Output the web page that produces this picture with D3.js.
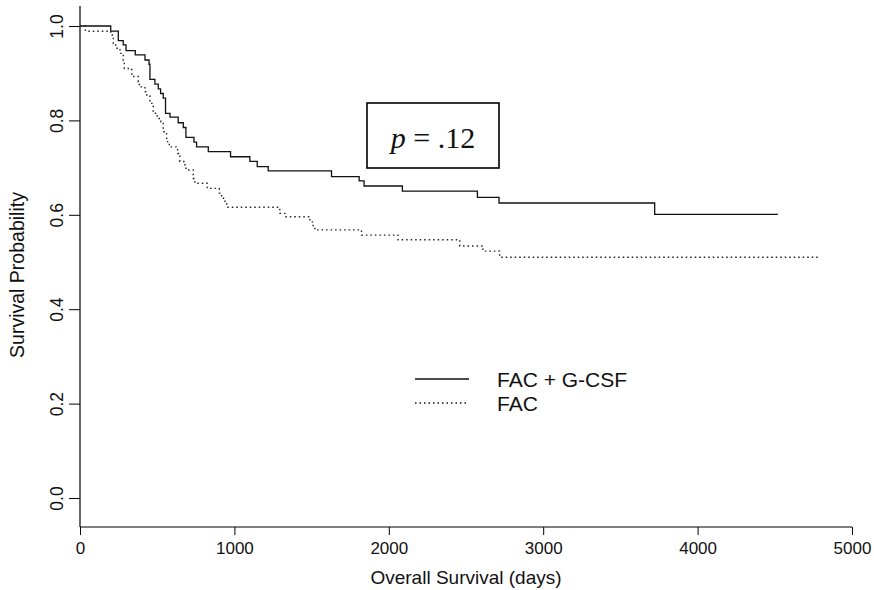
<!DOCTYPE html>
<html><head><meta charset="utf-8">
<script src="https://cdn.jsdelivr.net/npm/d3@7"></script>
<style>body{margin:0;background:#fff}</style>
</head><body>
<script>
// Kaplan-Meier step data (time in days, survival after event)
const gcsfTime = [0,199,248,280,298,358,421,447,453,485,507,522,539,554,583,636,669,686,738,755,831,975,1100,1148,1219,1629,1808,1840,2088,2574,2714,3722,4520];
const gcsfSurv = [1.0,0.989,0.969,0.960,0.948,0.939,0.928,0.919,0.887,0.877,0.867,0.857,0.847,0.815,0.807,0.795,0.785,0.764,0.754,0.744,0.734,0.723,0.713,0.702,0.693,0.681,0.672,0.661,0.650,0.637,0.625,0.601,0.601];
const facTime = [0,35,199,216,231,259,280,287,335,377,384,421,432,453,474,500,524,539,561,578,632,647,680,686,733,744,824,902,917,939,950,1294,1327,1489,1510,1521,1823,2060,2460,2610,2718,4790];
const facSurv = [1.0,0.989,0.981,0.963,0.953,0.942,0.924,0.910,0.893,0.882,0.871,0.861,0.852,0.836,0.815,0.804,0.797,0.776,0.755,0.744,0.730,0.713,0.706,0.695,0.677,0.667,0.656,0.646,0.635,0.624,0.616,0.603,0.596,0.585,0.575,0.568,0.557,0.547,0.534,0.523,0.510,0.510];
const xTicks = [0,1000,2000,3000,4000,5000];
const yTicks = [0.0,0.2,0.4,0.6,0.8,1.0];
const seriesNames = ["FAC + G-CSF","FAC"];
const pText = ".12";
const xTitle = "Overall Survival (days)";
const yTitle = "Survival Probability";

const W = 874, H = 590;
const svg = d3.select("body").append("svg").attr("width",W).attr("height",H);
const x = d3.scaleLinear().domain([0,5000]).range([80,852]);
const y = d3.scaleLinear().domain([0,1]).range([498,26]);
const axisFont = "'Liberation Sans', Arial, sans-serif";
const bottomY = 527, topY = 6;

// L-shaped frame
svg.append("line").attr("x1",80).attr("x2",80).attr("y1",topY).attr("y2",bottomY).attr("stroke","#000").attr("stroke-width",1.2);
svg.append("line").attr("x1",80).attr("x2",852).attr("y1",bottomY).attr("y2",bottomY).attr("stroke","#000").attr("stroke-width",1.2);

// x axis
const xa = svg.append("g").attr("transform",`translate(0,${bottomY})`)
  .call(d3.axisBottom(x).tickValues(xTicks).tickSize(8).tickPadding(7).tickFormat(d3.format("d")));
xa.select(".domain").remove();
xa.selectAll("line").attr("stroke","#000").attr("stroke-width",1);
xa.selectAll("text").attr("font-family",axisFont).attr("font-size",17).attr("fill","#111");

// y axis
const ya = svg.append("g").attr("transform","translate(80,0)")
  .call(d3.axisLeft(y).tickValues(yTicks).tickSize(11).tickFormat(d3.format(".1f")));
ya.select(".domain").remove();
ya.selectAll("line").attr("stroke","#000").attr("stroke-width",1);
ya.selectAll("text").attr("font-family",axisFont).attr("font-size",17.5).attr("fill","#111")
  .attr("x",null).attr("dy",null).attr("text-anchor","middle")
  .attr("transform","translate(-23,0) rotate(-90)").attr("dominant-baseline","central");

// titles
svg.append("text").attr("x",466).attr("y",584).attr("text-anchor","middle")
  .attr("font-family",axisFont).attr("font-size",19).attr("fill","#111").text(xTitle);
svg.append("text").attr("transform","translate(24,275) rotate(-90)").attr("text-anchor","middle")
  .attr("font-family",axisFont).attr("font-size",19.5).attr("fill","#111").text(yTitle);

// curves
const line = d3.line().x(d=>x(d[0])).y(d=>y(d[1])).curve(d3.curveStepAfter);
const gData = gcsfTime.map((t,i)=>[t,gcsfSurv[i]]);
const fData = facTime.map((t,i)=>[t,facSurv[i]]);
svg.append("path").attr("d",line(gData)).attr("fill","none").attr("stroke","#111").attr("stroke-width",1.3);
svg.append("path").attr("d",line(fData)).attr("fill","none").attr("stroke","#222").attr("stroke-width",1.4).attr("stroke-dasharray","1.5,3");

// p-value box
svg.append("rect").attr("x",367).attr("y",103).attr("width",132).attr("height",65)
  .attr("fill","none").attr("stroke","#000").attr("stroke-width",1.6);
const pt = svg.append("text").attr("x",433).attr("y",148).attr("text-anchor","middle")
  .attr("font-family","'Liberation Serif', 'Times New Roman', serif").attr("font-size",30).attr("fill","#111");
pt.append("tspan").attr("font-style","italic").text("p");
pt.append("tspan").text(" = " + pText);

// legend
const lg = [{name:seriesNames[0],dash:null,yy:379},{name:seriesNames[1],dash:"1.5,3",yy:403}];
lg.forEach(d=>{
  svg.append("line").attr("x1",415).attr("x2",469).attr("y1",d.yy).attr("y2",d.yy)
    .attr("stroke","#111").attr("stroke-width",d.dash?1.4:1.3).attr("stroke-dasharray",d.dash);
  svg.append("text").attr("x",497).attr("y",d.yy+7.5).attr("font-family",axisFont).attr("font-size",21)
    .attr("fill","#111").text(d.name);
});
</script>
</body></html>
